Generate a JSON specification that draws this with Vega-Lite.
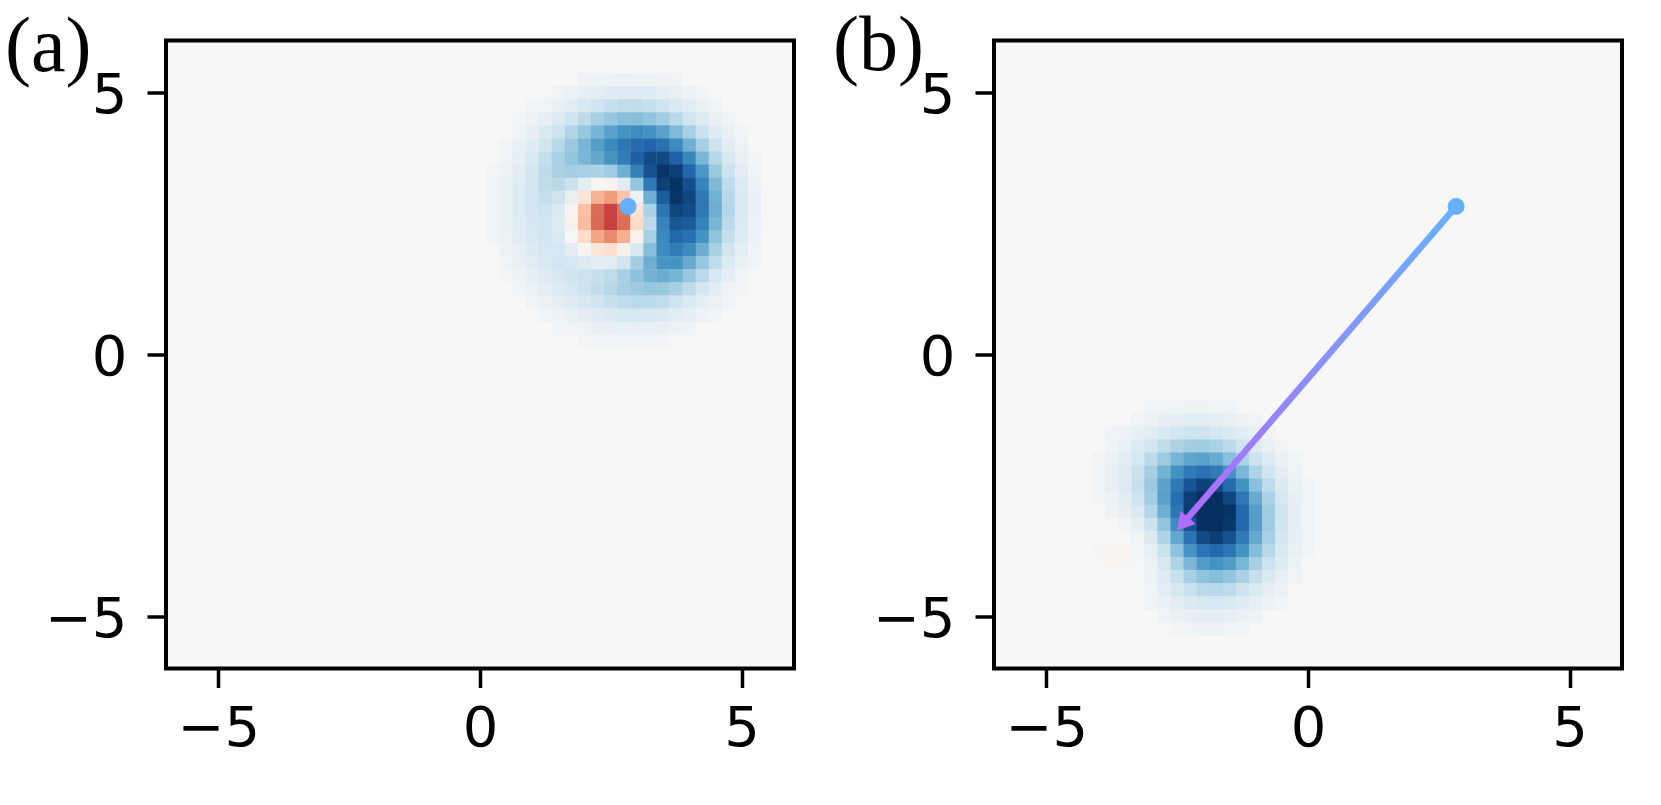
{
  "$schema": "https://vega.github.io/schema/vega-lite/v6.json",
  "background": "white",
  "padding": {"left": 3, "top": 5.5, "right": 10, "bottom": 10},
  "spacing": 200,
  "bounds": "flush",
  "resolve": {"scale": {"color": "independent"}},
  "config": {
    "view": {"stroke": "black", "strokeWidth": 4, "fill": "#f7f7f7"},
    "axis": {"domain": false, "grid": false, "ticks": true, "tickSize": 19, "tickWidth": 3.5, "tickColor": "black", "labelFont": "DejaVu Sans", "labelFontSize": 56, "labelColor": "black", "title": null},
    "axisX": {"labelPadding": 14},
    "axisY": {"labelPadding": 20, "labelOffset": 3}
  },
  "datasets": {
    "a": [
      {"x":2.0,"y":5.25,"v":0.039},{"x":2.25,"y":5.25,"v":0.049},{"x":2.5,"y":5.25,"v":0.057},{"x":2.75,"y":5.25,"v":0.061},{"x":3.0,"y":5.25,"v":0.06},{"x":3.25,"y":5.25,"v":0.054},{"x":3.5,"y":5.25,"v":0.044},{"x":3.75,"y":5.25,"v":0.033},
      {"x":1.5,"y":5.0,"v":0.041},{"x":1.75,"y":5.0,"v":0.061},{"x":2.0,"y":5.0,"v":0.084},{"x":2.25,"y":5.0,"v":0.106},{"x":2.5,"y":5.0,"v":0.123},{"x":2.75,"y":5.0,"v":0.132},{"x":3.0,"y":5.0,"v":0.131},{"x":3.25,"y":5.0,"v":0.119},{"x":3.5,"y":5.0,"v":0.099},{"x":3.75,"y":5.0,"v":0.076},{"x":4.0,"y":5.0,"v":0.052},{"x":4.25,"y":5.0,"v":0.033},
      {"x":1.0,"y":4.75,"v":0.029},{"x":1.25,"y":4.75,"v":0.05},{"x":1.5,"y":4.75,"v":0.081},{"x":1.75,"y":4.75,"v":0.118},{"x":2.0,"y":4.75,"v":0.161},{"x":2.25,"y":4.75,"v":0.201},{"x":2.5,"y":4.75,"v":0.234},{"x":2.75,"y":4.75,"v":0.253},{"x":3.0,"y":4.75,"v":0.253},{"x":3.25,"y":4.75,"v":0.234},{"x":3.5,"y":4.75,"v":0.198},{"x":3.75,"y":4.75,"v":0.153},{"x":4.0,"y":4.75,"v":0.108},{"x":4.25,"y":4.75,"v":0.069},{"x":4.5,"y":4.75,"v":0.04},
      {"x":0.75,"y":4.5,"v":0.027},{"x":1.0,"y":4.5,"v":0.052},{"x":1.25,"y":4.5,"v":0.089},{"x":1.5,"y":4.5,"v":0.139},{"x":1.75,"y":4.5,"v":0.201},{"x":2.0,"y":4.5,"v":0.267},{"x":2.25,"y":4.5,"v":0.332},{"x":2.5,"y":4.5,"v":0.386},{"x":2.75,"y":4.5,"v":0.42},{"x":3.0,"y":4.5,"v":0.427},{"x":3.25,"y":4.5,"v":0.402},{"x":3.5,"y":4.5,"v":0.349},{"x":3.75,"y":4.5,"v":0.277},{"x":4.0,"y":4.5,"v":0.199},{"x":4.25,"y":4.5,"v":0.129},{"x":4.5,"y":4.5,"v":0.076},{"x":4.75,"y":4.5,"v":0.04},
      {"x":0.75,"y":4.25,"v":0.045},{"x":1.0,"y":4.25,"v":0.084},{"x":1.25,"y":4.25,"v":0.14},{"x":1.5,"y":4.25,"v":0.212},{"x":1.75,"y":4.25,"v":0.296},{"x":2.0,"y":4.25,"v":0.384},{"x":2.25,"y":4.25,"v":0.469},{"x":2.5,"y":4.25,"v":0.545},{"x":2.75,"y":4.25,"v":0.601},{"x":3.0,"y":4.25,"v":0.625},{"x":3.25,"y":4.25,"v":0.607},{"x":3.5,"y":4.25,"v":0.544},{"x":3.75,"y":4.25,"v":0.444},{"x":4.0,"y":4.25,"v":0.329},{"x":4.25,"y":4.25,"v":0.219},{"x":4.5,"y":4.25,"v":0.131},{"x":4.75,"y":4.25,"v":0.07},{"x":5.0,"y":4.25,"v":0.034},
      {"x":0.5,"y":4.0,"v":0.034},{"x":0.75,"y":4.0,"v":0.068},{"x":1.0,"y":4.0,"v":0.121},{"x":1.25,"y":4.0,"v":0.194},{"x":1.5,"y":4.0,"v":0.281},{"x":1.75,"y":4.0,"v":0.375},{"x":2.0,"y":4.0,"v":0.466},{"x":2.25,"y":4.0,"v":0.555},{"x":2.5,"y":4.0,"v":0.642},{"x":2.75,"y":4.0,"v":0.724},{"x":3.0,"y":4.0,"v":0.784},{"x":3.25,"y":4.0,"v":0.799},{"x":3.5,"y":4.0,"v":0.749},{"x":3.75,"y":4.0,"v":0.637},{"x":4.0,"y":4.0,"v":0.487},{"x":4.25,"y":4.0,"v":0.334},{"x":4.5,"y":4.0,"v":0.205},{"x":4.75,"y":4.0,"v":0.112},{"x":5.0,"y":4.0,"v":0.054},
      {"x":0.5,"y":3.75,"v":0.047},{"x":0.75,"y":3.75,"v":0.092},{"x":1.0,"y":3.75,"v":0.157},{"x":1.25,"y":3.75,"v":0.239},{"x":1.5,"y":3.75,"v":0.324},{"x":1.75,"y":3.75,"v":0.399},{"x":2.0,"y":3.75,"v":0.46},{"x":2.25,"y":3.75,"v":0.517},{"x":2.5,"y":3.75,"v":0.595},{"x":2.75,"y":3.75,"v":0.702},{"x":3.0,"y":3.75,"v":0.821},{"x":3.25,"y":3.75,"v":0.905},{"x":3.5,"y":3.75,"v":0.909},{"x":3.75,"y":3.75,"v":0.817},{"x":4.0,"y":3.75,"v":0.652},{"x":4.25,"y":3.75,"v":0.462},{"x":4.5,"y":3.75,"v":0.29},{"x":4.75,"y":3.75,"v":0.162},{"x":5.0,"y":3.75,"v":0.08},{"x":5.25,"y":3.75,"v":0.035},
      {"x":0.25,"y":3.5,"v":0.028},{"x":0.5,"y":3.5,"v":0.06},{"x":0.75,"y":3.5,"v":0.112},{"x":1.0,"y":3.5,"v":0.184},{"x":1.25,"y":3.5,"v":0.261},{"x":1.5,"y":3.5,"v":0.322},{"x":1.75,"y":3.5,"v":0.345},{"x":2.0,"y":3.5,"v":0.332},{"x":2.25,"y":3.5,"v":0.318},{"x":2.5,"y":3.5,"v":0.359},{"x":2.75,"y":3.5,"v":0.487},{"x":3.0,"y":3.5,"v":0.683},{"x":3.25,"y":3.5,"v":0.875},{"x":3.5,"y":3.5,"v":0.977},{"x":3.75,"y":3.5,"v":0.944},{"x":4.0,"y":3.5,"v":0.792},{"x":4.25,"y":3.5,"v":0.581},{"x":4.5,"y":3.5,"v":0.374},{"x":4.75,"y":3.5,"v":0.213},{"x":5.0,"y":3.5,"v":0.107},{"x":5.25,"y":3.5,"v":0.047},
      {"x":0.25,"y":3.25,"v":0.033},{"x":0.5,"y":3.25,"v":0.07},{"x":0.75,"y":3.25,"v":0.127},{"x":1.0,"y":3.25,"v":0.197},{"x":1.25,"y":3.25,"v":0.258},{"x":1.5,"y":3.25,"v":0.275},{"x":1.75,"y":3.25,"v":0.22},{"x":2.0,"y":3.25,"v":0.105},{"x":2.25,"y":3.25,"v":-0.009},{"x":2.5,"y":3.25,"v":-0.027},{"x":2.75,"y":3.25,"v":0.113},{"x":3.0,"y":3.25,"v":0.393},{"x":3.25,"y":3.25,"v":0.712},{"x":3.5,"y":3.25,"v":0.939},{"x":3.75,"y":3.25,"v":0.996},{"x":4.0,"y":3.25,"v":0.884},{"x":4.25,"y":3.25,"v":0.672},{"x":4.5,"y":3.25,"v":0.443},{"x":4.75,"y":3.25,"v":0.257},{"x":5.0,"y":3.25,"v":0.13},{"x":5.25,"y":3.25,"v":0.058},
      {"x":0.25,"y":3.0,"v":0.037},{"x":0.5,"y":3.0,"v":0.075},{"x":0.75,"y":3.0,"v":0.133},{"x":1.0,"y":3.0,"v":0.197},{"x":1.25,"y":3.0,"v":0.236},{"x":1.5,"y":3.0,"v":0.207},{"x":1.75,"y":3.0,"v":0.075},{"x":2.0,"y":3.0,"v":-0.139},{"x":2.25,"y":3.0,"v":-0.349},{"x":2.5,"y":3.0,"v":-0.427},{"x":2.75,"y":3.0,"v":-0.285},{"x":3.0,"y":3.0,"v":0.064},{"x":3.25,"y":3.0,"v":0.493},{"x":3.5,"y":3.0,"v":0.835},{"x":3.75,"y":3.0,"v":0.981},{"x":4.0,"y":3.0,"v":0.917},{"x":4.25,"y":3.0,"v":0.719},{"x":4.5,"y":3.0,"v":0.485},{"x":4.75,"y":3.0,"v":0.284},{"x":5.0,"y":3.0,"v":0.146},{"x":5.25,"y":3.0,"v":0.066},
      {"x":0.25,"y":2.75,"v":0.037},{"x":0.5,"y":2.75,"v":0.075},{"x":0.75,"y":2.75,"v":0.131},{"x":1.0,"y":2.75,"v":0.188},{"x":1.25,"y":2.75,"v":0.211},{"x":1.5,"y":2.75,"v":0.151},{"x":1.75,"y":2.75,"v":-0.027},{"x":2.0,"y":2.75,"v":-0.299},{"x":2.25,"y":2.75,"v":-0.565},{"x":2.5,"y":2.75,"v":-0.68},{"x":2.75,"y":2.75,"v":-0.543},{"x":3.0,"y":2.75,"v":-0.164},{"x":3.25,"y":2.75,"v":0.321},{"x":3.5,"y":2.75,"v":0.727},{"x":3.75,"y":2.75,"v":0.926},{"x":4.0,"y":2.75,"v":0.899},{"x":4.25,"y":2.75,"v":0.72},{"x":4.5,"y":2.75,"v":0.491},{"x":4.75,"y":2.75,"v":0.291},{"x":5.0,"y":2.75,"v":0.15},{"x":5.25,"y":2.75,"v":0.068},
      {"x":0.25,"y":2.5,"v":0.035},{"x":0.5,"y":2.5,"v":0.071},{"x":0.75,"y":2.5,"v":0.122},{"x":1.0,"y":2.5,"v":0.175},{"x":1.25,"y":2.5,"v":0.194},{"x":1.5,"y":2.5,"v":0.131},{"x":1.75,"y":2.5,"v":-0.045},{"x":2.0,"y":2.5,"v":-0.312},{"x":2.25,"y":2.5,"v":-0.572},{"x":2.5,"y":2.5,"v":-0.688},{"x":2.75,"y":2.5,"v":-0.559},{"x":3.0,"y":2.5,"v":-0.197},{"x":3.25,"y":2.5,"v":0.269},{"x":3.5,"y":2.5,"v":0.663},{"x":3.75,"y":2.5,"v":0.861},{"x":4.0,"y":2.5,"v":0.842},{"x":4.25,"y":2.5,"v":0.677},{"x":4.5,"y":2.5,"v":0.463},{"x":4.75,"y":2.5,"v":0.274},{"x":5.0,"y":2.5,"v":0.141},{"x":5.25,"y":2.5,"v":0.064},
      {"x":0.25,"y":2.25,"v":0.031},{"x":0.5,"y":2.25,"v":0.062},{"x":0.75,"y":2.25,"v":0.109},{"x":1.0,"y":2.25,"v":0.159},{"x":1.25,"y":2.25,"v":0.185},{"x":1.5,"y":2.25,"v":0.146},{"x":1.75,"y":2.25,"v":0.014},{"x":2.0,"y":2.25,"v":-0.191},{"x":2.25,"y":2.25,"v":-0.391},{"x":2.5,"y":2.25,"v":-0.474},{"x":2.75,"y":2.25,"v":-0.358},{"x":3.0,"y":2.25,"v":-0.053},{"x":3.25,"y":2.25,"v":0.329},{"x":3.5,"y":2.25,"v":0.644},{"x":3.75,"y":2.25,"v":0.79},{"x":4.0,"y":2.25,"v":0.755},{"x":4.25,"y":2.25,"v":0.599},{"x":4.5,"y":2.25,"v":0.406},{"x":4.75,"y":2.25,"v":0.239},{"x":5.0,"y":2.25,"v":0.123},{"x":5.25,"y":2.25,"v":0.056},
      {"x":0.5,"y":2.0,"v":0.052},{"x":0.75,"y":2.0,"v":0.092},{"x":1.0,"y":2.0,"v":0.14},{"x":1.25,"y":2.0,"v":0.176},{"x":1.5,"y":2.0,"v":0.172},{"x":1.75,"y":2.0,"v":0.106},{"x":2.0,"y":2.0,"v":-0.011},{"x":2.25,"y":2.0,"v":-0.125},{"x":2.5,"y":2.0,"v":-0.159},{"x":2.75,"y":2.0,"v":-0.059},{"x":3.0,"y":2.0,"v":0.165},{"x":3.25,"y":2.0,"v":0.431},{"x":3.5,"y":2.0,"v":0.634},{"x":3.75,"y":2.0,"v":0.705},{"x":4.0,"y":2.0,"v":0.642},{"x":4.25,"y":2.0,"v":0.496},{"x":4.5,"y":2.0,"v":0.331},{"x":4.75,"y":2.0,"v":0.193},{"x":5.0,"y":2.0,"v":0.098},{"x":5.25,"y":2.0,"v":0.044},
      {"x":0.5,"y":1.75,"v":0.039},{"x":0.75,"y":1.75,"v":0.073},{"x":1.0,"y":1.75,"v":0.117},{"x":1.25,"y":1.75,"v":0.16},{"x":1.5,"y":1.75,"v":0.185},{"x":1.75,"y":1.75,"v":0.178},{"x":2.0,"y":1.75,"v":0.142},{"x":2.25,"y":1.75,"v":0.106},{"x":2.5,"y":1.75,"v":0.114},{"x":2.75,"y":1.75,"v":0.197},{"x":3.0,"y":1.75,"v":0.341},{"x":3.25,"y":1.75,"v":0.494},{"x":3.5,"y":1.75,"v":0.591},{"x":3.75,"y":1.75,"v":0.595},{"x":4.0,"y":1.75,"v":0.513},{"x":4.25,"y":1.75,"v":0.383},{"x":4.5,"y":1.75,"v":0.25},{"x":4.75,"y":1.75,"v":0.143},{"x":5.0,"y":1.75,"v":0.072},{"x":5.25,"y":1.75,"v":0.032},
      {"x":0.5,"y":1.5,"v":0.028},{"x":0.75,"y":1.5,"v":0.053},{"x":1.0,"y":1.5,"v":0.09},{"x":1.25,"y":1.5,"v":0.132},{"x":1.5,"y":1.5,"v":0.172},{"x":1.75,"y":1.5,"v":0.201},{"x":2.0,"y":1.5,"v":0.217},{"x":2.25,"y":1.5,"v":0.231},{"x":2.5,"y":1.5,"v":0.265},{"x":2.75,"y":1.5,"v":0.326},{"x":3.0,"y":1.5,"v":0.407},{"x":3.25,"y":1.5,"v":0.475},{"x":3.5,"y":1.5,"v":0.499},{"x":3.75,"y":1.5,"v":0.463},{"x":4.0,"y":1.5,"v":0.378},{"x":4.25,"y":1.5,"v":0.272},{"x":4.5,"y":1.5,"v":0.173},{"x":4.75,"y":1.5,"v":0.097},{"x":5.0,"y":1.5,"v":0.048},
      {"x":0.75,"y":1.25,"v":0.036},{"x":1.0,"y":1.25,"v":0.062},{"x":1.25,"y":1.25,"v":0.097},{"x":1.5,"y":1.25,"v":0.138},{"x":1.75,"y":1.25,"v":0.177},{"x":2.0,"y":1.25,"v":0.214},{"x":2.25,"y":1.25,"v":0.249},{"x":2.5,"y":1.25,"v":0.288},{"x":2.75,"y":1.25,"v":0.33},{"x":3.0,"y":1.25,"v":0.368},{"x":3.25,"y":1.25,"v":0.387},{"x":3.5,"y":1.25,"v":0.374},{"x":3.75,"y":1.25,"v":0.326},{"x":4.0,"y":1.25,"v":0.254},{"x":4.25,"y":1.25,"v":0.177},{"x":4.5,"y":1.25,"v":0.11},{"x":4.75,"y":1.25,"v":0.06},{"x":5.0,"y":1.25,"v":0.03},
      {"x":1.0,"y":1.0,"v":0.039},{"x":1.25,"y":1.0,"v":0.064},{"x":1.5,"y":1.0,"v":0.095},{"x":1.75,"y":1.0,"v":0.13},{"x":2.0,"y":1.0,"v":0.166},{"x":2.25,"y":1.0,"v":0.201},{"x":2.5,"y":1.0,"v":0.233},{"x":2.75,"y":1.0,"v":0.259},{"x":3.0,"y":1.0,"v":0.274},{"x":3.25,"y":1.0,"v":0.271},{"x":3.5,"y":1.0,"v":0.248},{"x":3.75,"y":1.0,"v":0.206},{"x":4.0,"y":1.0,"v":0.155},{"x":4.25,"y":1.0,"v":0.104},{"x":4.5,"y":1.0,"v":0.063},{"x":4.75,"y":1.0,"v":0.034},
      {"x":1.25,"y":0.75,"v":0.037},{"x":1.5,"y":0.75,"v":0.057},{"x":1.75,"y":0.75,"v":0.081},{"x":2.0,"y":0.75,"v":0.107},{"x":2.25,"y":0.75,"v":0.132},{"x":2.5,"y":0.75,"v":0.154},{"x":2.75,"y":0.75,"v":0.168},{"x":3.0,"y":0.75,"v":0.173},{"x":3.25,"y":0.75,"v":0.165},{"x":3.5,"y":0.75,"v":0.145},{"x":3.75,"y":0.75,"v":0.116},{"x":4.0,"y":0.75,"v":0.085},{"x":4.25,"y":0.75,"v":0.056},{"x":4.5,"y":0.75,"v":0.033},
      {"x":1.5,"y":0.5,"v":0.03},{"x":1.75,"y":0.5,"v":0.044},{"x":2.0,"y":0.5,"v":0.059},{"x":2.25,"y":0.5,"v":0.074},{"x":2.5,"y":0.5,"v":0.086},{"x":2.75,"y":0.5,"v":0.093},{"x":3.0,"y":0.5,"v":0.093},{"x":3.25,"y":0.5,"v":0.087},{"x":3.5,"y":0.5,"v":0.075},{"x":3.75,"y":0.5,"v":0.058},{"x":4.0,"y":0.5,"v":0.041},
      {"x":2.0,"y":0.25,"v":0.028},{"x":2.25,"y":0.25,"v":0.036},{"x":2.5,"y":0.25,"v":0.041},{"x":2.75,"y":0.25,"v":0.045},{"x":3.0,"y":0.25,"v":0.044},{"x":3.25,"y":0.25,"v":0.041},{"x":3.5,"y":0.25,"v":0.034}
    ],
    "b": [
      {"x":-3.0,"y":-1.0,"v":0.028},{"x":-2.75,"y":-1.0,"v":0.036},{"x":-2.5,"y":-1.0,"v":0.043},{"x":-2.25,"y":-1.0,"v":0.046},{"x":-2.0,"y":-1.0,"v":0.045},{"x":-1.75,"y":-1.0,"v":0.039},{"x":-1.5,"y":-1.0,"v":0.031},
      {"x":-3.25,"y":-1.25,"v":0.04},{"x":-3.0,"y":-1.25,"v":0.057},{"x":-2.75,"y":-1.25,"v":0.075},{"x":-2.5,"y":-1.25,"v":0.089},{"x":-2.25,"y":-1.25,"v":0.096},{"x":-2.0,"y":-1.25,"v":0.095},{"x":-1.75,"y":-1.25,"v":0.084},{"x":-1.5,"y":-1.25,"v":0.068},{"x":-1.25,"y":-1.25,"v":0.049},{"x":-1.0,"y":-1.25,"v":0.032},
      {"x":-3.75,"y":-1.5,"v":0.027},{"x":-3.5,"y":-1.5,"v":0.045},{"x":-3.25,"y":-1.5,"v":0.071},{"x":-3.0,"y":-1.5,"v":0.103},{"x":-2.75,"y":-1.5,"v":0.136},{"x":-2.5,"y":-1.5,"v":0.165},{"x":-2.25,"y":-1.5,"v":0.181},{"x":-2.0,"y":-1.5,"v":0.18},{"x":-1.75,"y":-1.5,"v":0.162},{"x":-1.5,"y":-1.5,"v":0.132},{"x":-1.25,"y":-1.5,"v":0.097},{"x":-1.0,"y":-1.5,"v":0.064},{"x":-0.75,"y":-1.5,"v":0.038},
      {"x":-3.75,"y":-1.75,"v":0.041},{"x":-3.5,"y":-1.75,"v":0.071},{"x":-3.25,"y":-1.75,"v":0.113},{"x":-3.0,"y":-1.75,"v":0.165},{"x":-2.75,"y":-1.75,"v":0.222},{"x":-2.5,"y":-1.75,"v":0.272},{"x":-2.25,"y":-1.75,"v":0.304},{"x":-2.0,"y":-1.75,"v":0.307},{"x":-1.75,"y":-1.75,"v":0.281},{"x":-1.5,"y":-1.75,"v":0.232},{"x":-1.25,"y":-1.75,"v":0.172},{"x":-1.0,"y":-1.75,"v":0.115},{"x":-0.75,"y":-1.75,"v":0.069},{"x":-0.5,"y":-1.75,"v":0.037},
      {"x":-4.0,"y":-2.0,"v":0.03},{"x":-3.75,"y":-2.0,"v":0.056},{"x":-3.5,"y":-2.0,"v":0.097},{"x":-3.25,"y":-2.0,"v":0.157},{"x":-3.0,"y":-2.0,"v":0.234},{"x":-2.75,"y":-2.0,"v":0.321},{"x":-2.5,"y":-2.0,"v":0.402},{"x":-2.25,"y":-2.0,"v":0.458},{"x":-2.0,"y":-2.0,"v":0.472},{"x":-1.75,"y":-2.0,"v":0.439},{"x":-1.5,"y":-2.0,"v":0.367},{"x":-1.25,"y":-2.0,"v":0.276},{"x":-1.0,"y":-2.0,"v":0.187},{"x":-0.75,"y":-2.0,"v":0.113},{"x":-0.5,"y":-2.0,"v":0.062},{"x":-0.25,"y":-2.0,"v":0.03},
      {"x":-4.0,"y":-2.25,"v":0.036},{"x":-3.75,"y":-2.25,"v":0.066},{"x":-3.5,"y":-2.25,"v":0.116},{"x":-3.25,"y":-2.25,"v":0.191},{"x":-3.0,"y":-2.25,"v":0.292},{"x":-2.75,"y":-2.25,"v":0.411},{"x":-2.5,"y":-2.25,"v":0.53},{"x":-2.25,"y":-2.25,"v":0.619},{"x":-2.0,"y":-2.25,"v":0.652},{"x":-1.75,"y":-2.25,"v":0.618},{"x":-1.5,"y":-2.25,"v":0.526},{"x":-1.25,"y":-2.25,"v":0.401},{"x":-1.0,"y":-2.25,"v":0.274},{"x":-0.75,"y":-2.25,"v":0.168},{"x":-0.5,"y":-2.25,"v":0.092},{"x":-0.25,"y":-2.25,"v":0.045},
      {"x":-4.0,"y":-2.5,"v":0.036},{"x":-3.75,"y":-2.5,"v":0.067},{"x":-3.5,"y":-2.5,"v":0.118},{"x":-3.25,"y":-2.5,"v":0.2},{"x":-3.0,"y":-2.5,"v":0.319},{"x":-2.75,"y":-2.5,"v":0.468},{"x":-2.5,"y":-2.5,"v":0.625},{"x":-2.25,"y":-2.5,"v":0.753},{"x":-2.0,"y":-2.5,"v":0.814},{"x":-1.75,"y":-2.5,"v":0.787},{"x":-1.5,"y":-2.5,"v":0.681},{"x":-1.25,"y":-2.5,"v":0.527},{"x":-1.0,"y":-2.5,"v":0.365},{"x":-0.75,"y":-2.5,"v":0.226},{"x":-0.5,"y":-2.5,"v":0.125},{"x":-0.25,"y":-2.5,"v":0.062},{"x":0.0,"y":-2.5,"v":0.028},
      {"x":-4.0,"y":-2.75,"v":0.03},{"x":-3.75,"y":-2.75,"v":0.055},{"x":-3.5,"y":-2.75,"v":0.1},{"x":-3.25,"y":-2.75,"v":0.18},{"x":-3.0,"y":-2.75,"v":0.305},{"x":-2.75,"y":-2.75,"v":0.473},{"x":-2.5,"y":-2.75,"v":0.662},{"x":-2.25,"y":-2.75,"v":0.827},{"x":-2.0,"y":-2.75,"v":0.92},{"x":-1.75,"y":-2.75,"v":0.911},{"x":-1.5,"y":-2.75,"v":0.803},{"x":-1.25,"y":-2.75,"v":0.63},{"x":-1.0,"y":-2.75,"v":0.441},{"x":-0.75,"y":-2.75,"v":0.275},{"x":-0.5,"y":-2.75,"v":0.154},{"x":-0.25,"y":-2.75,"v":0.076},{"x":0.0,"y":-2.75,"v":0.034},
      {"x":-3.75,"y":-3.0,"v":0.034},{"x":-3.5,"y":-3.0,"v":0.068},{"x":-3.25,"y":-3.0,"v":0.135},{"x":-3.0,"y":-3.0,"v":0.254},{"x":-2.75,"y":-3.0,"v":0.426},{"x":-2.5,"y":-3.0,"v":0.633},{"x":-2.25,"y":-3.0,"v":0.826},{"x":-2.0,"y":-3.0,"v":0.949},{"x":-1.75,"y":-3.0,"v":0.961},{"x":-1.5,"y":-3.0,"v":0.862},{"x":-1.25,"y":-3.0,"v":0.686},{"x":-1.0,"y":-3.0,"v":0.485},{"x":-0.75,"y":-3.0,"v":0.306},{"x":-0.5,"y":-3.0,"v":0.172},{"x":-0.25,"y":-3.0,"v":0.086},{"x":0.0,"y":-3.0,"v":0.039},
      {"x":-3.75,"y":-3.25,"v":0.012},{"x":-3.5,"y":-3.25,"v":0.031},{"x":-3.25,"y":-3.25,"v":0.082},{"x":-3.0,"y":-3.25,"v":0.185},{"x":-2.75,"y":-3.25,"v":0.348},{"x":-2.5,"y":-3.25,"v":0.554},{"x":-2.25,"y":-3.25,"v":0.757},{"x":-2.0,"y":-3.25,"v":0.898},{"x":-1.75,"y":-3.25,"v":0.93},{"x":-1.5,"y":-3.25,"v":0.848},{"x":-1.25,"y":-3.25,"v":0.683},{"x":-1.0,"y":-3.25,"v":0.487},{"x":-0.75,"y":-3.25,"v":0.309},{"x":-0.5,"y":-3.25,"v":0.175},{"x":-0.25,"y":-3.25,"v":0.088},{"x":0.0,"y":-3.25,"v":0.04},
      {"x":-3.75,"y":-3.5,"v":-0.008},{"x":-3.25,"y":-3.5,"v":0.038},{"x":-3.0,"y":-3.5,"v":0.121},{"x":-2.75,"y":-3.5,"v":0.264},{"x":-2.5,"y":-3.5,"v":0.453},{"x":-2.25,"y":-3.5,"v":0.646},{"x":-2.0,"y":-3.5,"v":0.786},{"x":-1.75,"y":-3.5,"v":0.829},{"x":-1.5,"y":-3.5,"v":0.765},{"x":-1.25,"y":-3.5,"v":0.622},{"x":-1.0,"y":-3.5,"v":0.447},{"x":-0.75,"y":-3.5,"v":0.285},{"x":-0.5,"y":-3.5,"v":0.162},{"x":-0.25,"y":-3.5,"v":0.082},{"x":0.0,"y":-3.5,"v":0.037},
      {"x":-4.0,"y":-3.75,"v":-0.011},{"x":-3.75,"y":-3.75,"v":-0.022},{"x":-3.5,"y":-3.75,"v":-0.019},{"x":-3.25,"y":-3.75,"v":0.014},{"x":-3.0,"y":-3.75,"v":0.078},{"x":-2.75,"y":-3.75,"v":0.194},{"x":-2.5,"y":-3.75,"v":0.353},{"x":-2.25,"y":-3.75,"v":0.518},{"x":-2.0,"y":-3.75,"v":0.642},{"x":-1.75,"y":-3.75,"v":0.685},{"x":-1.5,"y":-3.75,"v":0.637},{"x":-1.25,"y":-3.75,"v":0.52},{"x":-1.0,"y":-3.75,"v":0.375},{"x":-0.75,"y":-3.75,"v":0.24},{"x":-0.5,"y":-3.75,"v":0.137},{"x":-0.25,"y":-3.75,"v":0.069},{"x":0.0,"y":-3.75,"v":0.031},
      {"x":-4.0,"y":-4.0,"v":-0.009},{"x":-3.75,"y":-4.0,"v":-0.019},{"x":-3.5,"y":-4.0,"v":-0.018},{"x":-3.25,"y":-4.0,"v":0.008},{"x":-3.0,"y":-4.0,"v":0.057},{"x":-2.75,"y":-4.0,"v":0.146},{"x":-2.5,"y":-4.0,"v":0.267},{"x":-2.25,"y":-4.0,"v":0.395},{"x":-2.0,"y":-4.0,"v":0.491},{"x":-1.75,"y":-4.0,"v":0.525},{"x":-1.5,"y":-4.0,"v":0.489},{"x":-1.25,"y":-4.0,"v":0.4},{"x":-1.0,"y":-4.0,"v":0.289},{"x":-0.75,"y":-4.0,"v":0.185},{"x":-0.5,"y":-4.0,"v":0.105},{"x":-0.25,"y":-4.0,"v":0.053},
      {"x":-3.75,"y":-4.25,"v":-0.008},{"x":-3.25,"y":-4.25,"v":0.012},{"x":-3.0,"y":-4.25,"v":0.048},{"x":-2.75,"y":-4.25,"v":0.112},{"x":-2.5,"y":-4.25,"v":0.198},{"x":-2.25,"y":-4.25,"v":0.287},{"x":-2.0,"y":-4.25,"v":0.353},{"x":-1.75,"y":-4.25,"v":0.374},{"x":-1.5,"y":-4.25,"v":0.347},{"x":-1.25,"y":-4.25,"v":0.283},{"x":-1.0,"y":-4.25,"v":0.204},{"x":-0.75,"y":-4.25,"v":0.13},{"x":-0.5,"y":-4.25,"v":0.074},{"x":-0.25,"y":-4.25,"v":0.037},
      {"x":-3.0,"y":-4.5,"v":0.042},{"x":-2.75,"y":-4.5,"v":0.085},{"x":-2.5,"y":-4.5,"v":0.141},{"x":-2.25,"y":-4.5,"v":0.197},{"x":-2.0,"y":-4.5,"v":0.237},{"x":-1.75,"y":-4.5,"v":0.247},{"x":-1.5,"y":-4.5,"v":0.227},{"x":-1.25,"y":-4.5,"v":0.184},{"x":-1.0,"y":-4.5,"v":0.131},{"x":-0.75,"y":-4.5,"v":0.084},{"x":-0.5,"y":-4.5,"v":0.047},
      {"x":-3.0,"y":-4.75,"v":0.035},{"x":-2.75,"y":-4.75,"v":0.062},{"x":-2.5,"y":-4.75,"v":0.095},{"x":-2.25,"y":-4.75,"v":0.126},{"x":-2.0,"y":-4.75,"v":0.147},{"x":-1.75,"y":-4.75,"v":0.151},{"x":-1.5,"y":-4.75,"v":0.137},{"x":-1.25,"y":-4.75,"v":0.109},{"x":-1.0,"y":-4.75,"v":0.078},{"x":-0.75,"y":-4.75,"v":0.049},{"x":-0.5,"y":-4.75,"v":0.028},
      {"x":-2.75,"y":-5.0,"v":0.041},{"x":-2.5,"y":-5.0,"v":0.059},{"x":-2.25,"y":-5.0,"v":0.075},{"x":-2.0,"y":-5.0,"v":0.085},{"x":-1.75,"y":-5.0,"v":0.085},{"x":-1.5,"y":-5.0,"v":0.075},{"x":-1.25,"y":-5.0,"v":0.06},{"x":-1.0,"y":-5.0,"v":0.042},
      {"x":-2.5,"y":-5.25,"v":0.033},{"x":-2.25,"y":-5.25,"v":0.041},{"x":-2.0,"y":-5.25,"v":0.045},{"x":-1.75,"y":-5.25,"v":0.044},{"x":-1.5,"y":-5.25,"v":0.038},{"x":-1.25,"y":-5.25,"v":0.03}
    ],
    "dot": [{"x":2.83,"y":2.83}],
    "arrow": [{"x":2.83,"y":2.83,"o":0},{"x":-2.39,"y":-3.23,"o":1}],
    "head": [{"x":-2.4,"y":-3.24}]
  },
  "hconcat": [
    {
      "width": 628,
      "height": 628,
      "title": {"text": "(a)", "anchor": "start", "frame": "group", "dx": -161, "dy": 36, "offset": -72, "baseline": "alphabetic", "font": "Liberation Serif", "fontSize": 78, "fontWeight": "normal", "color": "black"},
      "encoding": {
        "x": {"field": "x", "type": "quantitative", "scale": {"domain": [-6, 6], "nice": false, "zero": false}, "axis": {"values": [-5, 0, 5]}},
        "y": {"field": "y", "type": "quantitative", "scale": {"domain": [-6, 6], "nice": false, "zero": false}, "axis": {"values": [-5, 0, 5]}}
      },
      "layer": [
        {
          "data": {"name": "a"},
          "mark": {"type": "square", "size": 182, "opacity": 1, "strokeWidth": 0},
          "encoding": {"color": {"field": "v", "type": "quantitative", "scale": {"type": "linear", "domain": [-1, -0.8, -0.6, -0.4, -0.2, 0, 0.2, 0.4, 0.6, 0.8, 1], "range": ["#67001f", "#b2182b", "#d6604d", "#f4a582", "#fddbc7", "#f7f7f7", "#d1e5f0", "#92c5de", "#4393c3", "#2166ac", "#053061"], "interpolate": "rgb", "clamp": true}, "legend": null}}
        },
        {
          "data": {"name": "dot"},
          "mark": {"type": "circle", "size": 290, "opacity": 1, "color": "#64b0fc"}
        }
      ]
    },
    {
      "width": 628,
      "height": 628,
      "title": {"text": "(b)", "anchor": "start", "frame": "group", "dx": -161, "dy": 35, "offset": -72, "baseline": "alphabetic", "font": "Liberation Serif", "fontSize": 78, "fontWeight": "normal", "color": "black"},
      "encoding": {
        "x": {"field": "x", "type": "quantitative", "scale": {"domain": [-6, 6], "nice": false, "zero": false}, "axis": {"values": [-5, 0, 5]}},
        "y": {"field": "y", "type": "quantitative", "scale": {"domain": [-6, 6], "nice": false, "zero": false}, "axis": {"values": [-5, 0, 5]}}
      },
      "layer": [
        {
          "data": {"name": "b"},
          "mark": {"type": "square", "size": 182, "opacity": 1, "strokeWidth": 0},
          "encoding": {"color": {"field": "v", "type": "quantitative", "scale": {"type": "linear", "domain": [-0.87, -0.696, -0.522, -0.348, -0.174, 0, 0.174, 0.348, 0.522, 0.696, 0.87], "range": ["#67001f", "#b2182b", "#d6604d", "#f4a582", "#fddbc7", "#f7f7f7", "#d1e5f0", "#92c5de", "#4393c3", "#2166ac", "#053061"], "interpolate": "rgb", "clamp": true}, "legend": null}}
        },
        {
          "data": {"name": "arrow"},
          "mark": {"type": "line", "strokeWidth": 6.5, "strokeCap": "butt", "stroke": {"gradient": "linear", "x1": 1, "y1": 0, "x2": 0, "y2": 1, "stops": [{"offset": 0, "color": "#66b2ff"}, {"offset": 1, "color": "#b06cfb"}]}},
          "encoding": {"order": {"field": "o", "type": "quantitative"}}
        },
        {
          "data": {"name": "head"},
          "mark": {"type": "point", "shape": "triangle-down", "angle": 41, "size": 420, "filled": true, "opacity": 1, "color": "#b06cfb", "strokeWidth": 0}
        },
        {
          "data": {"name": "dot"},
          "mark": {"type": "circle", "size": 290, "opacity": 1, "color": "#64b0fc"}
        }
      ]
    }
  ]
}
